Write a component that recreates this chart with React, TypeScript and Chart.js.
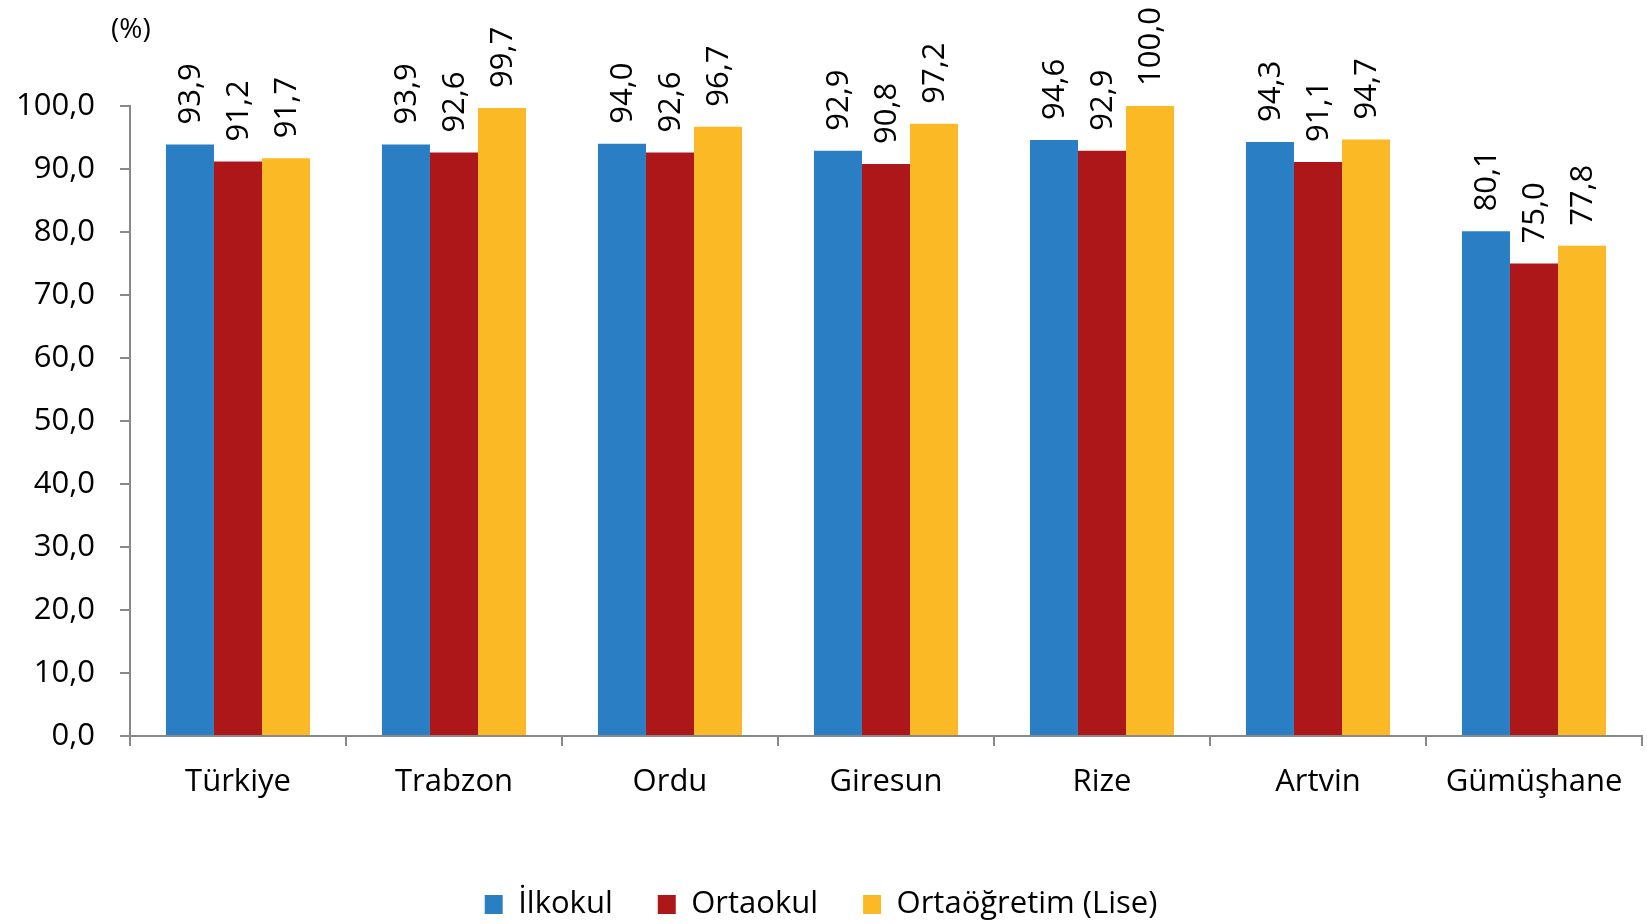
import React, { useEffect, useRef } from "react";
import { Chart, registerables } from "chart.js";

Chart.register(...registerables);

const categories = ["Türkiye", "Trabzon", "Ordu", "Giresun", "Rize", "Artvin", "Gümüşhane"];
const ilkokul = [93.9, 93.9, 94.0, 92.9, 94.6, 94.3, 80.1];
const ortaokul = [91.2, 92.6, 92.6, 90.8, 92.9, 91.1, 75.0];
const lise = [91.7, 99.7, 96.7, 97.2, 100.0, 94.7, 77.8];
const seriesNames = ["İlkokul", "Ortaokul", "Ortaöğretim (Lise)"];
const seriesColors = ["#2A7FC4", "#AE1719", "#FBBA25"];
const unitLabel = "(%)";
const yMin = 0;
const yMax = 100;
const yStep = 10;

const FONT = "'Open Sans', sans-serif";
const FS = 31;

const fmt = (v: number) => v.toFixed(1).replace(".", ",");

const valueLabels = {
  id: "valueLabels",
  afterDatasetsDraw(chart: any) {
    const ctx = chart.ctx;
    ctx.save();
    ctx.font = `${FS}px ${FONT}`;
    ctx.fillStyle = "#000";
    ctx.textAlign = "left";
    ctx.textBaseline = "middle";
    chart.data.datasets.forEach((ds: any, i: number) => {
      const meta = chart.getDatasetMeta(i);
      meta.data.forEach((bar: any, j: number) => {
        ctx.save();
        ctx.translate(bar.x + 1, bar.y - 20);
        ctx.rotate(-Math.PI / 2);
        ctx.fillText(fmt(ds.data[j]), 0, 0);
        ctx.restore();
      });
    });
    ctx.restore();
  },
};

const unitText = {
  id: "unitText",
  afterDraw(chart: any) {
    const ctx = chart.ctx;
    ctx.save();
    ctx.font = `${FS - 3}px ${FONT}`;
    ctx.fillStyle = "#000";
    ctx.textAlign = "left";
    ctx.textBaseline = "middle";
    ctx.fillText(unitLabel, 111, 30);
    ctx.restore();
  },
};

const legendFix = {
  id: "legendFix",
  afterInit(chart: any) {
    const lg = chart.legend;
    if (!lg) return;
    const orig = lg.fit.bind(lg);
    lg.fit = function () {
      orig();
      this.height = 80;
    };
  },
};

export default function App() {
  const ref = useRef<HTMLCanvasElement>(null);
  useEffect(() => {
    if (!ref.current) return;
    const chart = new Chart(ref.current, {
      type: "bar",
      data: {
        labels: categories,
        datasets: [
          { label: seriesNames[0], data: ilkokul, backgroundColor: seriesColors[0] },
          { label: seriesNames[1], data: ortaokul, backgroundColor: seriesColors[1] },
          { label: seriesNames[2], data: lise, backgroundColor: seriesColors[2] },
        ],
      },
      options: {
        responsive: false,
        animation: false,
        layout: { padding: { top: 106, left: 0, right: 5, bottom: 0 } },
        datasets: { bar: { categoryPercentage: 0.667, barPercentage: 1.0 } },
        plugins: {
          tooltip: { enabled: false },
          legend: {
            position: "bottom",
            labels: {
              boxWidth: 18,
              boxHeight: 19,
              padding: 45,
              color: "#000",
              font: { family: FONT, size: FS },
            },
          },
        },
        scales: {
          x: {
            grid: {
              drawOnChartArea: false,
              drawTicks: true,
              tickLength: 10,
              color: "#898989",
              lineWidth: 2,
              offset: true,
            },
            border: { display: true, color: "#898989", width: 2 },
            ticks: { color: "#000", font: { family: FONT, size: FS }, padding: 18, maxRotation: 0 },
            afterFit(scale: any) {
              scale.height = 108;
            },
          },
          y: {
            min: yMin,
            max: yMax,
            grid: {
              drawOnChartArea: false,
              drawTicks: true,
              tickLength: 10,
              color: "#898989",
              lineWidth: 2,
            },
            border: { display: true, color: "#898989", width: 2 },
            ticks: {
              stepSize: yStep,
              color: "#000",
              font: { family: FONT, size: FS },
              padding: 25,
              callback: (v: any) => fmt(Number(v)),
            },
            afterFit(scale: any) {
              scale.width = 130;
            },
          },
        },
      },
      plugins: [valueLabels, unitText, legendFix],
    } as any);
    return () => chart.destroy();
  }, []);
  return (
    <div style={{ position: "absolute", left: 0, top: 0, width: 1647, height: 924, background: "#fff" }}>
      <canvas ref={ref} width={1647} height={924} />
    </div>
  );
}
